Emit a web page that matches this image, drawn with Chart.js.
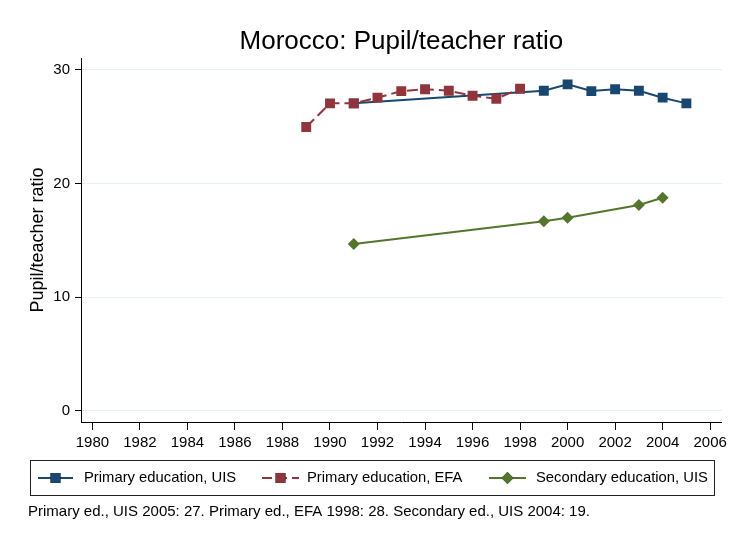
<!DOCTYPE html>
<html>
<head>
<meta charset="utf-8">
<script src="https://cdn.jsdelivr.net/npm/chart.js@4"></script>
<style>
  html, body { margin: 0; padding: 0; background: #fff; }
  #wrap { width: 731px; height: 538px; position: relative; }
</style>
</head>
<body>
<div id="wrap"><canvas id="chart" width="731" height="538"></canvas></div>
<script>
// Données
const yearsPrimaryUIS = [1991, 1999, 2000, 2001, 2002, 2003, 2004, 2005];
const primaryUIS = [27.06, 28.17, 28.73, 28.14, 28.3, 28.17, 27.56, 27.06];

const yearsPrimaryEFA = [1989, 1990, 1991, 1992, 1993, 1994, 1995, 1996, 1997, 1998];
const primaryEFA = [24.98, 27.06, 27.06, 27.56, 28.14, 28.3, 28.17, 27.73, 27.47, 28.35];

const yearsSecondaryUIS = [1991, 1999, 2000, 2003, 2004];
const secondaryUIS = [14.69, 16.68, 17.0, 18.12, 18.76];

const xTicks = [1980, 1982, 1984, 1986, 1988, 1990, 1992, 1994, 1996, 1998, 2000, 2002, 2004, 2006];
const yTicks = [0, 10, 20, 30];

const seriesLabels = ['Primary education, UIS', 'Primary education, EFA', 'Secondary education, UIS'];
const noteText = 'Primary ed., UIS 2005: 27. Primary ed., EFA 1998: 28. Secondary ed., UIS 2004: 19.';

const BLEU = '#1a476f';
const ROUGE = '#90353b';
const VERT = '#55752f';
const FONT = '"Liberation Sans", Arial, sans-serif';

function toPoints(xs, ys) {
  return xs.map((x, i) => ({ x: x, y: ys[i] }));
}

// Légende encadrée + note en bas, dessinées à la main
const legendeStata = {
  id: 'legendeStata',
  afterDraw(chart) {
    const ctx = chart.ctx;
    ctx.save();
    ctx.strokeStyle = '#222';
    ctx.lineWidth = 1;
    ctx.strokeRect(30.5, 460.5, 684, 35);

    const items = [
      { x0: 38, x1: 73, color: BLEU, dash: [], style: 'rect', r: 7, tx: 84 },
      { x0: 262, x1: 299, color: ROUGE, dash: [10, 5], style: 'rect', r: 7, tx: 307 },
      { x0: 489, x1: 526, color: VERT, dash: [], style: 'rectRot', r: 6, tx: 536 }
    ];
    const cy = 478;
    items.forEach((it, i) => {
      ctx.beginPath();
      ctx.setLineDash(it.dash);
      ctx.strokeStyle = it.color;
      ctx.lineWidth = 2;
      ctx.moveTo(it.x0, cy);
      ctx.lineTo(it.x1, cy);
      ctx.stroke();
      ctx.setLineDash([]);
      Chart.helpers.drawPoint(ctx, {
        pointStyle: it.style, radius: it.r, rotation: 0, borderWidth: 0
      }, (it.x0 + it.x1) / 2, cy);
      ctx.fillStyle = it.color;
      ctx.fill();
      ctx.fillStyle = '#000';
      ctx.font = '14.8px ' + FONT;
      ctx.textBaseline = 'middle';
      ctx.textAlign = 'left';
      ctx.fillText(seriesLabels[i], it.tx, cy);
    });

    ctx.fillStyle = '#000';
    ctx.font = '15px ' + FONT;
    ctx.textBaseline = 'middle';
    ctx.fillText(noteText, 28, 512);
    ctx.restore();
  }
};

const ctx = document.getElementById('chart').getContext('2d');
new Chart(ctx, {
  type: 'line',
  data: {
    datasets: [
      {
        label: seriesLabels[0],
        data: toPoints(yearsPrimaryUIS, primaryUIS),
        borderColor: BLEU,
        backgroundColor: BLEU,
        borderWidth: 2,
        pointStyle: 'rect',
        pointRadius: 7,
        pointBorderWidth: 0,
        tension: 0,
        order: 3
      },
      {
        label: seriesLabels[1],
        data: toPoints(yearsPrimaryEFA, primaryEFA),
        borderColor: ROUGE,
        backgroundColor: ROUGE,
        borderWidth: 2,
        borderDash: [11, 5],
        pointStyle: 'rect',
        pointRadius: 7,
        pointBorderWidth: 0,
        tension: 0,
        order: 2
      },
      {
        label: seriesLabels[2],
        data: toPoints(yearsSecondaryUIS, secondaryUIS),
        borderColor: VERT,
        backgroundColor: VERT,
        borderWidth: 2,
        pointStyle: 'rectRot',
        pointRadius: 6,
        pointBorderWidth: 0,
        tension: 0,
        order: 1
      }
    ]
  },
  options: {
    responsive: false,
    animation: false,
    devicePixelRatio: 1,
    layout: { padding: { left: 0, right: 9, top: 0, bottom: 80 } },
    plugins: {
      legend: { display: false },
      tooltip: { enabled: false },
      title: {
        display: true,
        fullSize: false,
        text: 'Morocco: Pupil/teacher ratio',
        color: '#000',
        font: { family: FONT, size: 26, weight: 'normal', lineHeight: 1.2 },
        padding: { top: 26, bottom: 0.8 }
      }
    },
    scales: {
      x: {
        type: 'linear',
        min: 1979.52,
        max: 2006.49,
        afterBuildTicks: (s) => { s.ticks = xTicks.map(v => ({ value: v })); },
        afterFit: (s) => { s.height = 36; },
        grid: {
          drawOnChartArea: false,
          drawTicks: true,
          tickLength: 8,
          tickColor: '#000',
          tickWidth: 1
        },
        border: { display: true, color: '#000', width: 1 },
        ticks: {
          autoSkip: false,
          maxRotation: 0,
          padding: 4,
          color: '#000',
          font: { family: FONT, size: 15 },
          callback: (v) => String(v)
        }
      },
      y: {
        type: 'linear',
        min: -0.97,
        max: 31.05,
        afterBuildTicks: (s) => { s.ticks = yTicks.map(v => ({ value: v })); },
        afterFit: (s) => { s.width = 81; },
        grid: {
          color: '#e6eff1',
          lineWidth: 1,
          drawTicks: true,
          tickLength: 6,
          tickColor: '#000',
          tickWidth: 1
        },
        border: { display: true, color: '#000', width: 1 },
        ticks: {
          padding: 5,
          color: '#000',
          font: { family: FONT, size: 15 },
          callback: (v) => String(v)
        },
        title: {
          display: true,
          text: 'Pupil/teacher ratio',
          color: '#000',
          font: { family: FONT, size: 18, lineHeight: 1.2 },
          padding: { top: 27, bottom: 0 }
        }
      }
    }
  },
  plugins: [legendeStata]
});
</script>
</body>
</html>
